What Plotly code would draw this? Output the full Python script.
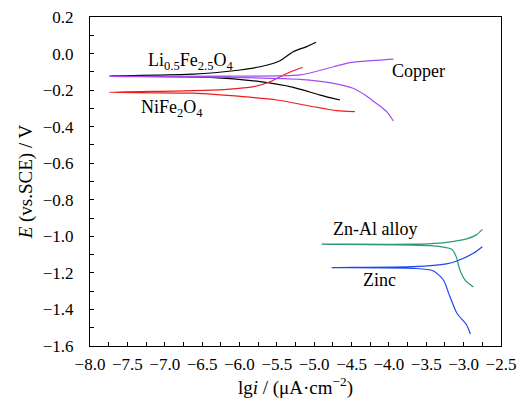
import plotly.graph_objects as go

# Li0.5Fe2.5O4 (black)
li_anodic_x = [-7.74, -6.62, -6.08, -5.725, -5.457, -5.28, -5.10, -4.976]
li_anodic_y = [-0.123, -0.112, -0.094, -0.072, -0.039, 0.010, 0.038, 0.062]
li_cathodic_x = [-7.74, -6.39, -5.725, -5.28, -4.92, -4.655]
li_cathodic_y = [-0.123, -0.130, -0.154, -0.185, -0.227, -0.254]

# NiFe2O4 (red)
ni_anodic_x = [-7.74, -6.62, -6.17, -5.81, -5.59, -5.41, -5.28, -5.155]
ni_anodic_y = [-0.212, -0.203, -0.196, -0.181, -0.154, -0.117, -0.094, -0.075]
ni_cathodic_x = [-7.74, -6.62, -5.95, -5.50, -5.06, -4.70, -4.455]
ni_cathodic_y = [-0.212, -0.217, -0.236, -0.254, -0.287, -0.312, -0.318]

# Copper (purple)
cu_anodic_x = [-7.74, -6.17, -5.19, -4.74, -4.52, -4.30, -3.94]
cu_anodic_y = [-0.125, -0.123, -0.117, -0.072, -0.050, -0.041, -0.031]
cu_cathodic_x = [-7.74, -6.17, -5.19, -4.74, -4.48, -4.32, -4.23, -4.12, -4.03, -3.94]
cu_cathodic_y = [-0.125, -0.130, -0.141, -0.163, -0.190, -0.227, -0.254, -0.287, -0.318, -0.369]

# Zn-Al alloy (green)
znal_anodic_x = [-4.90, -3.67, -3.32, -3.23, -2.96, -2.83, -2.75]
znal_anodic_y = [-1.043, -1.043, -1.037, -1.033, -1.014, -0.992, -0.962]
znal_cathodic_x = [-4.90, -3.45, -3.16, -3.10, -3.05, -2.98, -2.87]
znal_cathodic_y = [-1.043, -1.051, -1.071, -1.111, -1.184, -1.239, -1.277]

# Zinc (blue)
zn_anodic_x = [-4.77, -3.67, -3.23, -3.09, -2.87, -2.75]
zn_anodic_y = [-1.171, -1.166, -1.151, -1.135, -1.093, -1.057]
zn_cathodic_x = [-4.77, -3.67, -3.41, -3.27, -3.20, -3.09, -2.96, -2.91]
zn_cathodic_y = [-1.171, -1.175, -1.188, -1.239, -1.312, -1.421, -1.485, -1.534]

labels = ["Li<sub>0.5</sub>Fe<sub>2.5</sub>O<sub>4</sub>", "NiFe<sub>2</sub>O<sub>4</sub>",
          "Copper", "Zn-Al alloy", "Zinc"]
label_x = [-6.65, -6.90, -3.60, -4.19, -4.13]
label_y = [-0.046, -0.298, -0.095, -0.960, -1.240]

x_ticks = [-8.0, -7.5, -7.0, -6.5, -6.0, -5.5, -5.0, -4.5, -4.0, -3.5, -3.0, -2.5]
y_ticks = [0.2, 0.0, -0.2, -0.4, -0.6, -0.8, -1.0, -1.2, -1.4, -1.6]

series = [
    (li_anodic_x, li_anodic_y, li_cathodic_x, li_cathodic_y, "#000000"),
    (ni_anodic_x, ni_anodic_y, ni_cathodic_x, ni_cathodic_y, "#ee1c1c"),
    (cu_anodic_x, cu_anodic_y, cu_cathodic_x, cu_cathodic_y, "#a64bf4"),
    (znal_anodic_x, znal_anodic_y, znal_cathodic_x, znal_cathodic_y, "#2e9a72"),
    (zn_anodic_x, zn_anodic_y, zn_cathodic_x, zn_cathodic_y, "#1e48ee"),
]

SERIF = "Liberation Serif, Times New Roman, Times, serif"

fig = go.Figure()
for ax, ay, cx, cy, col in series:
    fig.add_trace(go.Scatter(x=cx[::-1] + ax[1:], y=cy[::-1] + ay[1:], mode="lines",
                             line=dict(color=col, width=1.2, shape="spline", smoothing=0.7),
                             showlegend=False, hoverinfo="skip"))

for t, lx, ly in zip(labels, label_x, label_y):
    fig.add_annotation(x=lx, y=ly, text=t, showarrow=False,
                       font=dict(family=SERIF, size=18, color="black"))

fmt = lambda v: ("\u2212" if v < 0 else "") + f"{abs(v):.1f}"

fig.update_layout(
    width=521, height=398,
    margin=dict(l=82, r=28, t=9, b=60),
    paper_bgcolor="white", plot_bgcolor="white",
    font=dict(family=SERIF, size=17, color="black"),
    xaxis=dict(range=[-8.0, -2.5], tickvals=x_ticks, ticktext=[fmt(v) for v in x_ticks],
               ticks="inside", ticklen=4, tickcolor="black", showgrid=False, zeroline=False,
               showline=True, linecolor="black", linewidth=1, mirror=True,
               automargin=False, ticklabelstandoff=3, ticklabeloverflow="allow",
               tickfont=dict(family=SERIF, size=17),
               minor=dict(ticks="inside", dtick=0.25, tick0=-8.0, ticklen=4, tickcolor="black"),
               title=dict(text="lg<i>i</i> / (\u03bcA\u00b7cm<sup>\u22122</sup>)", standoff=4,
                          font=dict(family=SERIF, size=19))),
    yaxis=dict(range=[-1.6, 0.2], tickvals=y_ticks, ticktext=[fmt(v) for v in y_ticks],
               ticks="inside", ticklen=4, tickcolor="black", showgrid=False, zeroline=False,
               showline=True, linecolor="black", linewidth=1, mirror=True,
               automargin=False, ticklabelstandoff=12, ticklabeloverflow="allow",
               tickfont=dict(family=SERIF, size=17),
               minor=dict(ticks="inside", dtick=0.1, tick0=0.0, ticklen=4, tickcolor="black"),
               title=dict(text="<i>E</i> (vs.SCE) / V", standoff=5,
                          font=dict(family=SERIF, size=19))),
)

fig.write_html("out.html")
